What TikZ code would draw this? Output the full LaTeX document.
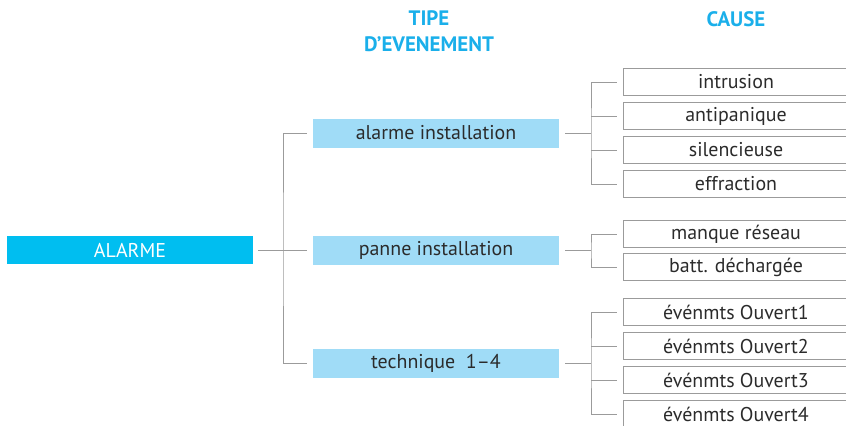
\documentclass[tikz,border=0pt]{standalone}
\usepackage{fontspec}
\setmainfont{PT Sans}
\usetikzlibrary{positioning}
\definecolor{alarmcyan}{HTML}{00BEF0}
\definecolor{typeblue}{HTML}{A0DCF7}
\definecolor{headblue}{HTML}{1AAFEA}
\definecolor{linegray}{HTML}{9B9B9B}
\definecolor{textgray}{HTML}{2B2B2B}

\begin{document}
\begin{tikzpicture}[
x=1bp, y=-1bp,
rootbox/.style={fill=alarmcyan, text=white, minimum width=246bp, minimum height=28bp, inner sep=0pt, font=\fontsize{20}{22}\selectfont},
typebox/.style={fill=typeblue, text=textgray, minimum width=246bp, minimum height=29bp, inner sep=0pt, font=\fontsize{20}{22}\selectfont},
causebox/.style={draw=linegray, line width=0.9bp, text=textgray, minimum width=226bp, minimum height=27bp, inner sep=0pt, font=\fontsize{20}{22}\selectfont},
header/.style={text=headblue, align=center, font=\fontsize{21}{26}\selectfont\bfseries},
link/.style={draw=linegray, line width=1bp}
]
\useasboundingbox (0,0) rectangle (846,425);

% headers
\node[header] (tipe) at (429,31) {TIPE\\ D'EVENEMENT};
\node[header] (cause) at (736,19) {CAUSE};

% root and event types
\node[rootbox] (alarme) at (130,250) {ALARME};
\node[typebox] (alarminst) at (436,133) {alarme installation};
\node[typebox] (panneinst) at (436,250) {panne installation};
\node[typebox] (technique) at (436,363) {technique\ \ 1--4};

% causes
\node[causebox] (intrusion) at (736,82) {intrusion};
\node[causebox] (antipanique) at (736,116) {antipanique};
\node[causebox] (silencieuse) at (736,150) {silencieuse};
\node[causebox] (effraction) at (736,184) {effraction};
\node[causebox] (reseau) at (736,234) {manque réseau};
\node[causebox] (batt) at (736,267) {batt. déchargée};
\foreach \i/\y in {1/312,2/346,3/380,4/414}
  \node[causebox] (ouvert\i) at (736,\y) {événmts Ouvert\i};

% connectors
\coordinate (trunk) at (283,250);
\draw[link] ([xshift=5bp]alarme.east) -- ([xshift=-6bp]panneinst.west);
\draw[link] ([xshift=-6bp]alarminst.west) -| (trunk) |- ([xshift=-6bp]technique.west);

\coordinate (forkA) at (591,133);
\draw[link] ([xshift=6bp]alarminst.east) -- (forkA);
\draw[link] ([xshift=-6bp]intrusion.west) -| (forkA) |- ([xshift=-6bp]effraction.west);
\draw[link] (forkA |- antipanique) -- ([xshift=-6bp]antipanique.west);
\draw[link] (forkA |- silencieuse) -- ([xshift=-6bp]silencieuse.west);

\coordinate (forkB) at (591,250);
\draw[link] ([xshift=6bp]panneinst.east) -- (forkB);
\draw[link] ([xshift=-6bp]reseau.west) -| (forkB) |- ([xshift=-6bp]batt.west);

\coordinate (forkC) at (591,363);
\draw[link] ([xshift=6bp]technique.east) -- (forkC);
\draw[link] ([xshift=-6bp]ouvert1.west) -| (forkC) |- ([xshift=-6bp]ouvert4.west);
\draw[link] (forkC |- ouvert2) -- ([xshift=-6bp]ouvert2.west);
\draw[link] (forkC |- ouvert3) -- ([xshift=-6bp]ouvert3.west);
\end{tikzpicture}
\end{document}
